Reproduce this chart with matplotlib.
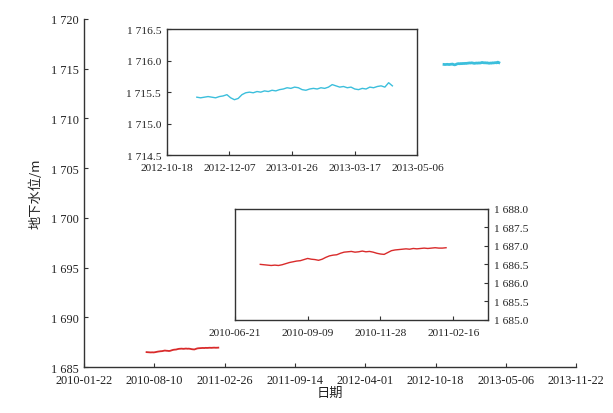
import matplotlib
matplotlib.use("Agg")
import matplotlib.pyplot as plt
import matplotlib.dates as mdates
import pandas as pd

plt.rcParams['font.family'] = ['Liberation Serif', 'Noto Sans CJK SC']

# ---------------- data ----------------
main_xticks = ["2010-01-22", "2010-08-10", "2011-02-26", "2011-09-14",
               "2012-04-01", "2012-10-18", "2013-05-06", "2013-11-22"]
main_yticks = [1685, 1690, 1695, 1700, 1705, 1710, 1715, 1720]

top_xticks = ["2012-10-18", "2012-12-07", "2013-01-26", "2013-03-17", "2013-05-06"]
top_yticks = [1714.5, 1715.0, 1715.5, 1716.0, 1716.5]

bot_xticks = ["2010-06-21", "2010-09-09", "2010-11-28", "2011-02-16"]
bot_xlim_end = "2011-03-26"
bot_yticks = [1685.0, 1685.5, 1686.0, 1686.5, 1687.0, 1687.5, 1688.0]

cyan_start = "2012-11-11"   # sampled every 3 days
cyan_vals = [1715.42, 1715.41, 1715.42, 1715.43, 1715.42, 1715.41, 1715.43, 1715.44,
             1715.46, 1715.41, 1715.38, 1715.40, 1715.46, 1715.49, 1715.50, 1715.49,
             1715.51, 1715.50, 1715.52, 1715.51, 1715.53, 1715.52, 1715.54, 1715.55,
             1715.57, 1715.56, 1715.58, 1715.57, 1715.54, 1715.53, 1715.55, 1715.56,
             1715.55, 1715.57, 1715.56, 1715.58, 1715.62, 1715.60, 1715.58, 1715.59,
             1715.57, 1715.58, 1715.55, 1715.54, 1715.56, 1715.55, 1715.58, 1715.57,
             1715.59, 1715.60, 1715.58, 1715.65, 1715.60]

red_start = "2010-07-19"    # sampled every 4 days
red_vals = [1686.50, 1686.49, 1686.48, 1686.47, 1686.48, 1686.47, 1686.49, 1686.52,
            1686.55, 1686.57, 1686.59, 1686.60, 1686.63, 1686.66, 1686.64, 1686.63,
            1686.61, 1686.64, 1686.69, 1686.73, 1686.75, 1686.76, 1686.80, 1686.83,
            1686.84, 1686.85, 1686.83, 1686.84, 1686.86, 1686.84, 1686.85, 1686.83,
            1686.80, 1686.78, 1686.77, 1686.82, 1686.87, 1686.89, 1686.90, 1686.91,
            1686.92, 1686.91, 1686.93, 1686.92, 1686.93, 1686.94, 1686.93, 1686.94,
            1686.95, 1686.94, 1686.94, 1686.95]

cyan_dates = pd.date_range(cyan_start, periods=len(cyan_vals), freq="3D")
red_dates = pd.date_range(red_start, periods=len(red_vals), freq="4D")

CYAN = "#3cbfdc"
RED = "#d92b2b"
SPINE = "#333333"
TXT = "#222222"


def fmt_thousands(v, nd):
    s = f"{v:.{nd}f}"
    ip, *fp = s.split(".")
    ip = ip[0] + " " + ip[1:] if len(ip) == 4 else ip
    return ip + ("." + fp[0] if fp else "")


def style(ax, sides, size):
    for s in ["left", "right", "top", "bottom"]:
        ax.spines[s].set_visible(s in sides)
        ax.spines[s].set_color(SPINE)
        ax.spines[s].set_linewidth(1.0)
    ax.tick_params(direction="in", length=3, width=0.8, colors=SPINE,
                   labelcolor=TXT, labelsize=size, pad=2)


fig = plt.figure(figsize=(6.13, 4.14), dpi=100)

# ---------------- main axes ----------------
ax = fig.add_axes([0.137, 0.111, 0.803, 0.841])
ax.plot(red_dates, red_vals, color=RED, lw=1.3)
ax.plot(cyan_dates, cyan_vals, color=CYAN, lw=2.0)
mx = pd.to_datetime(main_xticks)
ax.set_xlim(mx[0], mx[-1])
ax.set_xticks(mx)
ax.set_xticklabels(main_xticks)
ax.set_ylim(main_yticks[0], main_yticks[-1])
ax.set_yticks(main_yticks)
ax.set_yticklabels([fmt_thousands(v, 0) for v in main_yticks])
style(ax, ["left", "bottom"], 8.8)
ax.tick_params(axis="x", pad=5)
ax.tick_params(axis="y", pad=4)
ax.set_xlabel("日期", family=['Noto Sans CJK SC'], fontsize=9.5, color=TXT, labelpad=0)
ax.set_ylabel("地下水位/m", family=['Noto Sans CJK SC'], fontsize=9.5, color=TXT, labelpad=6)

# ---------------- top inset (cyan) ----------------
a1 = fig.add_axes([0.272, 0.623, 0.409, 0.304])
a1.plot(cyan_dates, cyan_vals, color=CYAN, lw=1.0)
tx = pd.to_datetime(top_xticks)
a1.set_xlim(tx[0], tx[-1])
a1.set_xticks(tx)
a1.set_xticklabels(top_xticks)
a1.set_ylim(top_yticks[0], top_yticks[-1])
a1.set_yticks(top_yticks)
a1.set_yticklabels([fmt_thousands(v, 1) for v in top_yticks])
style(a1, ["left", "right", "top", "bottom"], 8.2)
a1.tick_params(axis="y", pad=4)
a1.tick_params(axis="x", pad=6)

# ---------------- bottom inset (red) ----------------
a2 = fig.add_axes([0.383, 0.225, 0.413, 0.268])
a2.plot(red_dates, red_vals, color=RED, lw=1.0)
bx = pd.to_datetime(bot_xticks)
a2.set_xlim(bx[0], pd.Timestamp(bot_xlim_end))
a2.set_xticks(bx)
a2.set_xticklabels(bot_xticks)
a2.set_ylim(bot_yticks[0], bot_yticks[-1])
a2.set_yticks(bot_yticks)
a2.set_yticklabels([fmt_thousands(v, 1) for v in bot_yticks])
a2.yaxis.tick_right()
style(a2, ["left", "right", "top", "bottom"], 8.2)
a2.tick_params(axis="y", left=False, right=True, pad=4)
a2.tick_params(axis="x", pad=6)

fig.savefig("out.png", dpi=100)
